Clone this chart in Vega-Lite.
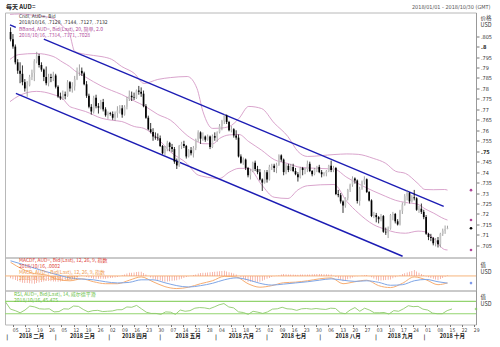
{
"$schema": "https://vega.github.io/schema/vega-lite/v6.json",
"padding": {"left": 2, "top": 2.5, "right": 0, "bottom": 0},
"background": "white",
"spacing": 0,
"bounds": "flush",
"config": {"view": {"stroke": "#b8b8b8", "strokeWidth": 1}, "font": "Liberation Sans Narrow, DejaVu Sans Condensed, Liberation Sans"},
"datasets": {
"one": [{}],
"cd": [
{"i":-1,"o":0.807,"h":0.8092,"l":0.8025,"c":0.8035,"d":-0.0012},
{"i":0,"o":0.8035,"h":0.806,"l":0.799,"c":0.8,"d":-0.0017},
{"i":1,"o":0.8,"h":0.801,"l":0.7915,"c":0.7925,"d":-0.0021},
{"i":2,"o":0.7925,"h":0.794,"l":0.787,"c":0.7885,"d":-0.0026},
{"i":3,"o":0.7885,"h":0.7925,"l":0.7825,"c":0.787,"d":-0.003},
{"i":4,"o":0.787,"h":0.791,"l":0.7815,"c":0.783,"d":-0.0035},
{"i":5,"o":0.783,"h":0.7845,"l":0.7785,"c":0.78,"d":-0.0036},
{"i":6,"o":0.78,"h":0.7835,"l":0.776,"c":0.7815,"d":-0.0037},
{"i":7,"o":0.7815,"h":0.7865,"l":0.781,"c":0.7855,"d":-0.0038},
{"i":8,"o":0.7855,"h":0.789,"l":0.784,"c":0.7875,"d":-0.0039},
{"i":9,"o":0.7875,"h":0.794,"l":0.7835,"c":0.793,"d":-0.004},
{"i":10,"o":0.793,"h":0.7975,"l":0.792,"c":0.7955,"d":-0.0037},
{"i":11,"o":0.7955,"h":0.7965,"l":0.79,"c":0.7912,"d":-0.0034},
{"i":12,"o":0.7912,"h":0.7925,"l":0.788,"c":0.789,"d":-0.0031},
{"i":13,"o":0.789,"h":0.7895,"l":0.7835,"c":0.7855,"d":-0.0028},
{"i":14,"o":0.7855,"h":0.7905,"l":0.7815,"c":0.7825,"d":-0.0025},
{"i":15,"o":0.7825,"h":0.787,"l":0.781,"c":0.7855,"d":-0.0026},
{"i":16,"o":0.7855,"h":0.787,"l":0.783,"c":0.785,"d":-0.0027},
{"i":17,"o":0.785,"h":0.788,"l":0.7835,"c":0.7862,"d":-0.0028},
{"i":18,"o":0.7862,"h":0.787,"l":0.78,"c":0.7808,"d":-0.0029},
{"i":19,"o":0.7808,"h":0.7815,"l":0.7755,"c":0.7762,"d":-0.003},
{"i":20,"o":0.7762,"h":0.778,"l":0.7745,"c":0.7752,"d":-0.0028},
{"i":21,"o":0.7752,"h":0.779,"l":0.7745,"c":0.7772,"d":-0.0026},
{"i":22,"o":0.7772,"h":0.7785,"l":0.7748,"c":0.7765,"d":-0.0024},
{"i":23,"o":0.7765,"h":0.784,"l":0.776,"c":0.783,"d":-0.0022},
{"i":24,"o":0.783,"h":0.7835,"l":0.7785,"c":0.78,"d":-0.002},
{"i":25,"o":0.78,"h":0.783,"l":0.778,"c":0.781,"d":-0.0016},
{"i":26,"o":0.781,"h":0.786,"l":0.779,"c":0.7845,"d":-0.0011},
{"i":27,"o":0.7845,"h":0.79,"l":0.784,"c":0.788,"d":-0.0007},
{"i":28,"o":0.788,"h":0.7915,"l":0.786,"c":0.7884,"d":-0.0002},
{"i":29,"o":0.7884,"h":0.79,"l":0.786,"c":0.7872,"d":0.0002},
{"i":30,"o":0.7872,"h":0.788,"l":0.7815,"c":0.782,"d":-0.0001},
{"i":31,"o":0.782,"h":0.7835,"l":0.7755,"c":0.7765,"d":-0.0005},
{"i":32,"o":0.7765,"h":0.7775,"l":0.7705,"c":0.7712,"d":-0.0008},
{"i":33,"o":0.7712,"h":0.7725,"l":0.7675,"c":0.769,"d":-0.0011},
{"i":34,"o":0.769,"h":0.7765,"l":0.768,"c":0.7755,"d":-0.0014},
{"i":35,"o":0.7755,"h":0.777,"l":0.7705,"c":0.7715,"d":-0.0014},
{"i":36,"o":0.7715,"h":0.773,"l":0.768,"c":0.7708,"d":-0.0014},
{"i":37,"o":0.7708,"h":0.7745,"l":0.77,"c":0.7735,"d":-0.0014},
{"i":38,"o":0.7735,"h":0.775,"l":0.769,"c":0.77,"d":-0.0014},
{"i":39,"o":0.77,"h":0.771,"l":0.7665,"c":0.7672,"d":-0.0014},
{"i":40,"o":0.7672,"h":0.769,"l":0.7655,"c":0.7682,"d":-0.0012},
{"i":41,"o":0.7682,"h":0.7688,"l":0.767,"c":0.7678,"d":-0.0011},
{"i":42,"o":0.7678,"h":0.769,"l":0.765,"c":0.766,"d":-0.0009},
{"i":43,"o":0.766,"h":0.769,"l":0.7645,"c":0.7682,"d":-0.0008},
{"i":44,"o":0.7682,"h":0.7715,"l":0.766,"c":0.7695,"d":-0.0006},
{"i":45,"o":0.7695,"h":0.772,"l":0.768,"c":0.7705,"d":-0.0002},
{"i":46,"o":0.7705,"h":0.772,"l":0.766,"c":0.7675,"d":0.0003},
{"i":47,"o":0.7675,"h":0.772,"l":0.767,"c":0.7712,"d":0.0007},
{"i":48,"o":0.7712,"h":0.776,"l":0.77,"c":0.775,"d":0.0012},
{"i":49,"o":0.775,"h":0.779,"l":0.774,"c":0.7765,"d":0.0016},
{"i":50,"o":0.7765,"h":0.7785,"l":0.774,"c":0.7758,"d":0.0017},
{"i":51,"o":0.7758,"h":0.778,"l":0.7745,"c":0.7755,"d":0.0018},
{"i":52,"o":0.7755,"h":0.7795,"l":0.775,"c":0.779,"d":0.002},
{"i":53,"o":0.779,"h":0.7812,"l":0.777,"c":0.7784,"d":0.0021},
{"i":54,"o":0.7784,"h":0.7805,"l":0.776,"c":0.7775,"d":0.0022},
{"i":55,"o":0.7775,"h":0.779,"l":0.771,"c":0.7715,"d":0.0015},
{"i":56,"o":0.7715,"h":0.7725,"l":0.7655,"c":0.766,"d":0.0007},
{"i":57,"o":0.766,"h":0.767,"l":0.76,"c":0.7605,"d":0},
{"i":58,"o":0.7605,"h":0.7635,"l":0.7585,"c":0.7592,"d":-0.0008},
{"i":59,"o":0.7592,"h":0.761,"l":0.755,"c":0.757,"d":-0.0015},
{"i":60,"o":0.757,"h":0.759,"l":0.7555,"c":0.7565,"d":-0.0018},
{"i":61,"o":0.7565,"h":0.7585,"l":0.755,"c":0.7562,"d":-0.0021},
{"i":62,"o":0.7562,"h":0.7575,"l":0.752,"c":0.7525,"d":-0.0024},
{"i":63,"o":0.7525,"h":0.753,"l":0.7485,"c":0.749,"d":-0.0027},
{"i":64,"o":0.749,"h":0.7525,"l":0.748,"c":0.751,"d":-0.003},
{"i":65,"o":0.751,"h":0.755,"l":0.75,"c":0.754,"d":-0.0028},
{"i":66,"o":0.754,"h":0.7545,"l":0.75,"c":0.752,"d":-0.0027},
{"i":67,"o":0.752,"h":0.7535,"l":0.7495,"c":0.751,"d":-0.0025},
{"i":68,"o":0.751,"h":0.752,"l":0.744,"c":0.745,"d":-0.0024},
{"i":69,"o":0.745,"h":0.7465,"l":0.7415,"c":0.7432,"d":-0.0022},
{"i":70,"o":0.7432,"h":0.753,"l":0.7425,"c":0.7525,"d":-0.0018},
{"i":71,"o":0.7525,"h":0.7545,"l":0.751,"c":0.7535,"d":-0.0014},
{"i":72,"o":0.7535,"h":0.755,"l":0.7515,"c":0.7525,"d":-0.001},
{"i":73,"o":0.7525,"h":0.753,"l":0.7465,"c":0.7475,"d":-0.0006},
{"i":74,"o":0.7475,"h":0.751,"l":0.747,"c":0.7505,"d":-0.0002},
{"i":75,"o":0.7505,"h":0.752,"l":0.748,"c":0.749,"d":0.0001},
{"i":76,"o":0.749,"h":0.7525,"l":0.747,"c":0.7515,"d":0.0005},
{"i":77,"o":0.7515,"h":0.756,"l":0.7505,"c":0.7555,"d":0.0008},
{"i":78,"o":0.7555,"h":0.76,"l":0.7545,"c":0.759,"d":0.0012},
{"i":79,"o":0.759,"h":0.7595,"l":0.7535,"c":0.756,"d":0.0015},
{"i":80,"o":0.756,"h":0.759,"l":0.755,"c":0.757,"d":0.0016},
{"i":81,"o":0.757,"h":0.7575,"l":0.7545,"c":0.7555,"d":0.0017},
{"i":82,"o":0.7555,"h":0.758,"l":0.755,"c":0.757,"d":0.0018},
{"i":83,"o":0.757,"h":0.7575,"l":0.751,"c":0.752,"d":0.0019},
{"i":84,"o":0.752,"h":0.758,"l":0.7515,"c":0.7572,"d":0.002},
{"i":85,"o":0.7572,"h":0.759,"l":0.755,"c":0.7565,"d":0.0021},
{"i":86,"o":0.7565,"h":0.7595,"l":0.7545,"c":0.759,"d":0.0023},
{"i":87,"o":0.759,"h":0.763,"l":0.7585,"c":0.762,"d":0.0024},
{"i":88,"o":0.762,"h":0.765,"l":0.76,"c":0.7645,"d":0.0026},
{"i":89,"o":0.7645,"h":0.7677,"l":0.763,"c":0.767,"d":0.0027},
{"i":90,"o":0.767,"h":0.7675,"l":0.763,"c":0.764,"d":0.0023},
{"i":91,"o":0.764,"h":0.7645,"l":0.7595,"c":0.76,"d":0.0019},
{"i":92,"o":0.76,"h":0.762,"l":0.759,"c":0.7605,"d":0.0016},
{"i":93,"o":0.7605,"h":0.761,"l":0.7565,"c":0.7575,"d":0.0012},
{"i":94,"o":0.7575,"h":0.76,"l":0.7555,"c":0.7565,"d":0.0008},
{"i":95,"o":0.7565,"h":0.758,"l":0.747,"c":0.7475,"d":0},
{"i":96,"o":0.7475,"h":0.7485,"l":0.744,"c":0.7445,"d":-0.0007},
{"i":97,"o":0.7445,"h":0.747,"l":0.7435,"c":0.746,"d":-0.0015},
{"i":98,"o":0.746,"h":0.7465,"l":0.741,"c":0.742,"d":-0.0022},
{"i":99,"o":0.742,"h":0.7425,"l":0.7375,"c":0.7385,"d":-0.003},
{"i":100,"o":0.7385,"h":0.7415,"l":0.7365,"c":0.7405,"d":-0.003},
{"i":101,"o":0.7405,"h":0.745,"l":0.74,"c":0.7445,"d":-0.003},
{"i":102,"o":0.7445,"h":0.7455,"l":0.7405,"c":0.7415,"d":-0.003},
{"i":103,"o":0.7415,"h":0.743,"l":0.739,"c":0.74,"d":-0.003},
{"i":104,"o":0.74,"h":0.7415,"l":0.736,"c":0.7365,"d":-0.003},
{"i":105,"o":0.7365,"h":0.737,"l":0.731,"c":0.735,"d":-0.0025},
{"i":106,"o":0.735,"h":0.741,"l":0.7345,"c":0.74,"d":-0.002},
{"i":107,"o":0.74,"h":0.741,"l":0.735,"c":0.7365,"d":-0.0015},
{"i":108,"o":0.7365,"h":0.7435,"l":0.736,"c":0.7425,"d":-0.001},
{"i":109,"o":0.7425,"h":0.744,"l":0.741,"c":0.743,"d":-0.0005},
{"i":110,"o":0.743,"h":0.744,"l":0.74,"c":0.742,"d":-0.0002},
{"i":111,"o":0.742,"h":0.7445,"l":0.7395,"c":0.7435,"d":0.0001},
{"i":112,"o":0.7435,"h":0.7485,"l":0.743,"c":0.748,"d":0.0004},
{"i":113,"o":0.748,"h":0.7485,"l":0.745,"c":0.746,"d":0.0007},
{"i":114,"o":0.746,"h":0.7465,"l":0.7385,"c":0.74,"d":0.001},
{"i":115,"o":0.74,"h":0.744,"l":0.739,"c":0.743,"d":0.0009},
{"i":116,"o":0.743,"h":0.744,"l":0.74,"c":0.741,"d":0.0008},
{"i":117,"o":0.741,"h":0.744,"l":0.7405,"c":0.7425,"d":0.0008},
{"i":118,"o":0.7425,"h":0.744,"l":0.74,"c":0.7405,"d":0.0007},
{"i":119,"o":0.7405,"h":0.742,"l":0.7385,"c":0.739,"d":0.0006},
{"i":120,"o":0.739,"h":0.74,"l":0.7355,"c":0.7375,"d":0.0006},
{"i":121,"o":0.7375,"h":0.7425,"l":0.737,"c":0.742,"d":0.0007},
{"i":122,"o":0.742,"h":0.7425,"l":0.7385,"c":0.741,"d":0.0007},
{"i":123,"o":0.741,"h":0.742,"l":0.739,"c":0.7415,"d":0.0008},
{"i":124,"o":0.7415,"h":0.7455,"l":0.74,"c":0.744,"d":0.0008},
{"i":125,"o":0.744,"h":0.745,"l":0.74,"c":0.7405,"d":0.0008},
{"i":126,"o":0.7405,"h":0.741,"l":0.738,"c":0.739,"d":0.0009},
{"i":127,"o":0.739,"h":0.742,"l":0.7385,"c":0.7415,"d":0.0009},
{"i":128,"o":0.7415,"h":0.743,"l":0.74,"c":0.7425,"d":0.001},
{"i":129,"o":0.7425,"h":0.7435,"l":0.7395,"c":0.74,"d":0.001},
{"i":130,"o":0.74,"h":0.741,"l":0.7375,"c":0.739,"d":0.001},
{"i":131,"o":0.739,"h":0.74,"l":0.738,"c":0.7395,"d":0.0009},
{"i":132,"o":0.7395,"h":0.741,"l":0.738,"c":0.7405,"d":0.0009},
{"i":133,"o":0.7405,"h":0.7435,"l":0.74,"c":0.743,"d":0.0008},
{"i":134,"o":0.743,"h":0.7455,"l":0.74,"c":0.741,"d":0.0008},
{"i":135,"o":0.741,"h":0.743,"l":0.74,"c":0.742,"d":0.0001},
{"i":136,"o":0.742,"h":0.7425,"l":0.729,"c":0.7295,"d":-0.0006},
{"i":137,"o":0.7295,"h":0.7315,"l":0.728,"c":0.729,"d":-0.0013},
{"i":138,"o":0.729,"h":0.73,"l":0.725,"c":0.726,"d":-0.002},
{"i":139,"o":0.726,"h":0.7265,"l":0.7205,"c":0.724,"d":-0.0027},
{"i":140,"o":0.724,"h":0.728,"l":0.723,"c":0.7275,"d":-0.0022},
{"i":141,"o":0.7275,"h":0.732,"l":0.7265,"c":0.7315,"d":-0.0017},
{"i":142,"o":0.7315,"h":0.7345,"l":0.7305,"c":0.734,"d":-0.0013},
{"i":143,"o":0.734,"h":0.738,"l":0.733,"c":0.737,"d":-0.0008},
{"i":144,"o":0.737,"h":0.7375,"l":0.7345,"c":0.736,"d":-0.0003},
{"i":145,"o":0.736,"h":0.7365,"l":0.725,"c":0.7262,"d":-0.0001},
{"i":146,"o":0.7262,"h":0.733,"l":0.724,"c":0.732,"d":0},
{"i":147,"o":0.732,"h":0.736,"l":0.7315,"c":0.7355,"d":0.0002},
{"i":148,"o":0.7355,"h":0.738,"l":0.734,"c":0.7366,"d":0.0003},
{"i":149,"o":0.7366,"h":0.737,"l":0.73,"c":0.7305,"d":0.0005},
{"i":150,"o":0.7305,"h":0.731,"l":0.726,"c":0.7265,"d":-0.0001},
{"i":151,"o":0.7265,"h":0.727,"l":0.7185,"c":0.719,"d":-0.0007},
{"i":152,"o":0.719,"h":0.721,"l":0.718,"c":0.7195,"d":-0.0013},
{"i":153,"o":0.7195,"h":0.7205,"l":0.716,"c":0.7185,"d":-0.0019},
{"i":154,"o":0.7185,"h":0.719,"l":0.7155,"c":0.7175,"d":-0.0025},
{"i":155,"o":0.7175,"h":0.72,"l":0.7165,"c":0.719,"d":-0.0024},
{"i":156,"o":0.719,"h":0.7195,"l":0.711,"c":0.7115,"d":-0.0022},
{"i":157,"o":0.7115,"h":0.7135,"l":0.71,"c":0.7112,"d":-0.0021},
{"i":158,"o":0.7112,"h":0.714,"l":0.7085,"c":0.713,"d":-0.0019},
{"i":159,"o":0.713,"h":0.72,"l":0.7125,"c":0.7195,"d":-0.0018},
{"i":160,"o":0.7195,"h":0.721,"l":0.717,"c":0.72,"d":-0.0012},
{"i":161,"o":0.72,"h":0.7205,"l":0.7155,"c":0.7165,"d":-0.0007},
{"i":162,"o":0.7165,"h":0.7175,"l":0.7145,"c":0.715,"d":-0.0001},
{"i":163,"o":0.715,"h":0.722,"l":0.7145,"c":0.7215,"d":0.0004},
{"i":164,"o":0.7215,"h":0.7255,"l":0.72,"c":0.7245,"d":0.001},
{"i":165,"o":0.7245,"h":0.7295,"l":0.724,"c":0.7285,"d":0.0014},
{"i":166,"o":0.7285,"h":0.7315,"l":0.7265,"c":0.73,"d":0.0018},
{"i":167,"o":0.73,"h":0.7305,"l":0.725,"c":0.726,"d":0.0022},
{"i":168,"o":0.726,"h":0.729,"l":0.7255,"c":0.728,"d":0.0026},
{"i":169,"o":0.728,"h":0.7315,"l":0.7265,"c":0.7275,"d":0.003},
{"i":170,"o":0.7275,"h":0.728,"l":0.7215,"c":0.722,"d":0.0023},
{"i":171,"o":0.722,"h":0.724,"l":0.7205,"c":0.7225,"d":0.0017},
{"i":172,"o":0.7225,"h":0.725,"l":0.72,"c":0.721,"d":0.001},
{"i":173,"o":0.721,"h":0.722,"l":0.7175,"c":0.7185,"d":0.0004},
{"i":174,"o":0.7185,"h":0.7195,"l":0.71,"c":0.7105,"d":-0.0003},
{"i":175,"o":0.7105,"h":0.711,"l":0.7075,"c":0.709,"d":-0.0007},
{"i":176,"o":0.709,"h":0.7105,"l":0.707,"c":0.7085,"d":-0.0011},
{"i":177,"o":0.7085,"h":0.709,"l":0.705,"c":0.706,"d":-0.0014},
{"i":178,"o":0.706,"h":0.7085,"l":0.7045,"c":0.7075,"d":-0.0018},
{"i":179,"o":0.7075,"h":0.709,"l":0.704,"c":0.7055,"d":-0.0022},
{"i":180,"o":0.7055,"h":0.711,"l":0.704,"c":0.7105,"d":-0.0016},
{"i":181,"o":0.7105,"h":0.713,"l":0.7095,"c":0.712,"d":-0.001},
{"i":182,"o":0.712,"h":0.7145,"l":0.7105,"c":0.7128,"d":-0.0004},
{"i":183,"o":0.7128,"h":0.7144,"l":0.7127,"c":0.7132,"d":0.0002}
],
"bb": [
{"i":-1.24,"u":0.8154,"m":0.7939,"lo":0.7737},
{"i":2.5,"u":0.8156,"m":0.7962,"lo":0.7765},
{"i":9.9,"u":0.8148,"m":0.7967,"lo":0.7786},
{"i":16.9,"u":0.8135,"m":0.7953,"lo":0.7771},
{"i":21,"u":0.8096,"m":0.7925,"lo":0.775},
{"i":23.9,"u":0.8058,"m":0.7905,"lo":0.7714},
{"i":26,"u":0.7977,"m":0.7885,"lo":0.7705},
{"i":30.5,"u":0.7963,"m":0.7855,"lo":0.769},
{"i":37.5,"u":0.7952,"m":0.781,"lo":0.7657},
{"i":41.6,"u":0.7939,"m":0.779,"lo":0.7648},
{"i":45.8,"u":0.7905,"m":0.7771,"lo":0.7642},
{"i":51.1,"u":0.7872,"m":0.774,"lo":0.7618},
{"i":55.2,"u":0.7824,"m":0.7718,"lo":0.7609},
{"i":61,"u":0.7843,"m":0.7676,"lo":0.7560},
{"i":66.4,"u":0.7852,"m":0.7648,"lo":0.7496},
{"i":73.4,"u":0.7857,"m":0.7575,"lo":0.7440},
{"i":77.5,"u":0.78,"m":0.7546,"lo":0.7389},
{"i":80,"u":0.769,"m":0.7536,"lo":0.738},
{"i":84.1,"u":0.7609,"m":0.7535,"lo":0.7372},
{"i":87,"u":0.761,"m":0.7561,"lo":0.737},
{"i":91.1,"u":0.7618,"m":0.7578,"lo":0.74},
{"i":95.2,"u":0.7657,"m":0.758,"lo":0.7418},
{"i":99.3,"u":0.7714,"m":0.7546,"lo":0.7418},
{"i":104.7,"u":0.7704,"m":0.7505,"lo":0.734},
{"i":110,"u":0.7635,"m":0.746,"lo":0.728},
{"i":115.8,"u":0.757,"m":0.7441,"lo":0.7274},
{"i":120,"u":0.7499,"m":0.7425,"lo":0.7315},
{"i":124,"u":0.7475,"m":0.742,"lo":0.7335},
{"i":135.2,"u":0.7484,"m":0.7415,"lo":0.7341},
{"i":140.6,"u":0.7487,"m":0.7375,"lo":0.726},
{"i":145.4,"u":0.7485,"m":0.7345,"lo":0.7205},
{"i":151.7,"u":0.7466,"m":0.731,"lo":0.715},
{"i":157,"u":0.7442,"m":0.7284,"lo":0.7126},
{"i":161.2,"u":0.7404,"m":0.7265,"lo":0.7112},
{"i":165.3,"u":0.7394,"m":0.7255,"lo":0.7108},
{"i":170.6,"u":0.7345,"m":0.7246,"lo":0.7118},
{"i":173.5,"u":0.7317,"m":0.7225,"lo":0.7115},
{"i":177,"u":0.7316,"m":0.7205,"lo":0.7085},
{"i":181.8,"u":0.7317,"m":0.7176,"lo":0.703},
{"i":183,"u":0.7314,"m":0.7171,"lo":0.7028}
],
"chan": [
{"ln":"up1","i":-1.24,"v":0.8104},
{"ln":"up1","i":1.2,"v":0.8092},
{"ln":"up2","i":13,"v":0.8036},
{"ln":"up2","i":181.4,"v":0.7236},
{"ln":"low","i":1.24,"v":0.7776},
{"ln":"low","i":164.1,"v":0.6998}
],
"macd": [
{"i":-1,"m":0.007,"s":0.0078},{"i":4,"m":0.0035,"s":0.006},{"i":9,"m":0.0012,"s":0.004},{"i":14,"m":0.0005,"s":0.0022},
{"i":19,"m":-0.0018,"s":0.0005},{"i":24,"m":-0.0025,"s":-0.001},{"i":29,"m":-0.0015,"s":-0.0016},{"i":34,"m":-0.003,"s":-0.002},
{"i":39,"m":-0.004,"s":-0.003},{"i":44,"m":-0.004,"s":-0.0036},{"i":49,"m":-0.0022,"s":-0.0033},{"i":54,"m":-0.0005,"s":-0.002},
{"i":59,"m":-0.003,"s":-0.002},{"i":64,"m":-0.0055,"s":-0.0035},{"i":69,"m":-0.0065,"s":-0.005},{"i":74,"m":-0.0058,"s":-0.0057},
{"i":79,"m":-0.004,"s":-0.005},{"i":84,"m":-0.0025,"s":-0.0038},{"i":89,"m":-0.0002,"s":-0.002},{"i":94,"m":-0.0005,"s":-0.001},
{"i":99,"m":-0.004,"s":-0.002},{"i":104,"m":-0.0058,"s":-0.0038},{"i":109,"m":-0.005,"s":-0.0047},{"i":114,"m":-0.0035,"s":-0.0042},
{"i":119,"m":-0.0032,"s":-0.0036},{"i":124,"m":-0.0025,"s":-0.003},{"i":129,"m":-0.0015,"s":-0.0022},{"i":134,"m":-0.001,"s":-0.0015},
{"i":139,"m":-0.004,"s":-0.0022},{"i":144,"m":-0.003,"s":-0.0028},{"i":149,"m":-0.0022,"s":-0.0025},{"i":154,"m":-0.005,"s":-0.0033},
{"i":159,"m":-0.006,"s":-0.0048},{"i":164,"m":-0.0038,"s":-0.0045},{"i":169,"m":-0.0005,"s":-0.0025},{"i":174,"m":-0.002,"s":-0.0018},
{"i":179,"m":-0.0045,"s":-0.003},{"i":183,"m":-0.0036,"s":-0.0037}
],
"rsi": [
{"i":-1,"r":68},{"i":1,"r":45},{"i":3,"r":40},{"i":5,"r":33},{"i":7,"r":42},{"i":9,"r":55},{"i":11,"r":52},{"i":13,"r":46},{"i":15,"r":45},{"i":17,"r":46},{"i":19,"r":36},{"i":21,"r":37},{"i":23,"r":46},{"i":25,"r":45},{"i":27,"r":55},{"i":29,"r":54},{"i":31,"r":44},{"i":33,"r":36},{"i":35,"r":40},{"i":37,"r":41},{"i":39,"r":37},{"i":41,"r":38},{"i":43,"r":39},{"i":45,"r":43},{"i":47,"r":43},{"i":49,"r":52},{"i":51,"r":51},{"i":53,"r":57},{"i":55,"r":46},{"i":57,"r":35},{"i":59,"r":31},{"i":61,"r":31},{"i":63,"r":28},{"i":65,"r":36},{"i":67,"r":35},{"i":69,"r":28},{"i":71,"r":42},{"i":73,"r":38},{"i":75,"r":40},{"i":77,"r":48},{"i":79,"r":50},{"i":81,"r":49},{"i":83,"r":46},{"i":85,"r":52},{"i":87,"r":59},{"i":89,"r":63},{"i":91,"r":52},{"i":93,"r":49},{"i":95,"r":36},{"i":97,"r":34},{"i":99,"r":28},{"i":101,"r":38},{"i":103,"r":35},{"i":105,"r":31},{"i":107,"r":36},{"i":109,"r":45},{"i":111,"r":46},{"i":113,"r":51},{"i":115,"r":46},{"i":117,"r":45},{"i":119,"r":41},{"i":121,"r":46},{"i":123,"r":47},{"i":125,"r":45},{"i":127,"r":47},{"i":129,"r":45},{"i":131,"r":44},{"i":133,"r":48},{"i":135,"r":47},{"i":137,"r":33},{"i":139,"r":30},{"i":141,"r":42},{"i":143,"r":50},{"i":145,"r":38},{"i":147,"r":48},{"i":149,"r":42},{"i":151,"r":33},{"i":153,"r":33},{"i":155,"r":34},{"i":157,"r":29},{"i":159,"r":40},{"i":161,"r":38},{"i":163,"r":46},{"i":165,"r":56},{"i":167,"r":53},{"i":169,"r":54},{"i":171,"r":45},{"i":173,"r":42},{"i":175,"r":32},{"i":177,"r":30},{"i":179,"r":30},{"i":181,"r":40},{"i":183,"r":45.5}
],
"nowMain": [{"k":"u","v":0.7314},{"k":"m","v":0.7171},{"k":"lo","v":0.7028},{"k":"c","v":0.7132}],
"levels": [{"lv":30},{"lv":70}]
},
"vconcat": [
{
"width": 471, "height": 245,
"resolve": {"axis": {"y": "independent"}},
"layer": [
{"data": {"name": "bb"}, "transform": [{"fold": ["u","m","lo"], "as": ["k","v"]}],
 "mark": {"type": "line", "interpolate": "monotone", "color": "#d59ac6", "strokeWidth": 0.9},
 "encoding": {"x": {"field": "i", "type": "quantitative", "scale": {"domain": [-1.24, 192.9], "nice": false, "zero": false}, "axis": null},
  "y": {"field": "v", "type": "quantitative", "scale": {"domain": [0.6992, 0.8163], "nice": false, "zero": false},
   "axis": {"orient": "right", "values": [0.705,0.71,0.715,0.72,0.725,0.73,0.735,0.74,0.745,0.75,0.755,0.76,0.765,0.77,0.775,0.78,0.785,0.79,0.795,0.8,0.805],
    "labelExpr": "replace(format(datum.value, '.3~f'), '0.', '.')", "labelFontSize": 5.5, "labelColor": "#333",
    "labelFontWeight": {"condition": {"test": "abs(datum.value - 0.8) < 0.0001 || abs(datum.value - 0.75) < 0.0001", "value": "bold"}, "value": "normal"},
    "tickSize": 3, "tickColor": "#777", "domainColor": "#999", "labelPadding": 1.5, "grid": false, "labelOverlap": false, "labelBound": false,
    "title": ["价格", "USD"], "titleAngle": 0, "titleAlign": "left", "titleBaseline": "top", "titleX": 4, "titleY": 3,
    "titleFontSize": 5.5, "titleFontWeight": "normal", "titleColor": "#333", "titleLineHeight": 7, "titleFont": "Noto Sans CJK SC"}},
  "detail": {"field": "k"}}},
{"data": {"name": "chan"},
 "mark": {"type": "line", "color": "#1c1cb4", "strokeWidth": 1.4},
 "encoding": {"x": {"field": "i", "type": "quantitative", "axis": null}, "y": {"field": "v", "type": "quantitative", "axis": null}, "detail": {"field": "ln"}}},
{"data": {"name": "cd"},
 "mark": {"type": "rule", "strokeWidth": 0.8},
 "encoding": {"x": {"field": "i", "type": "quantitative", "axis": null}, "y": {"field": "l", "type": "quantitative", "axis": null}, "y2": {"field": "h"},
  "color": {"condition": {"test": "datum.c >= datum.o", "value": "#8c8c8c"}, "value": "#000000"}}},
{"data": {"name": "cd"},
 "mark": {"type": "bar", "size": 1.7},
 "encoding": {"x": {"field": "i", "type": "quantitative", "axis": null}, "y": {"field": "o", "type": "quantitative", "axis": null}, "y2": {"field": "c"},
  "color": {"condition": {"test": "datum.c >= datum.o", "value": "#c4c4c4"}, "value": "#000000"}}},
{"data": {"name": "nowMain"},
 "mark": {"type": "point", "filled": true, "size": 7, "opacity": 1},
 "encoding": {"x": {"datum": 192.9, "type": "quantitative", "axis": null}, "y": {"field": "v", "type": "quantitative", "axis": null},
  "color": {"field": "k", "type": "nominal", "scale": {"domain": ["u","m","lo","c"], "range": ["#b04a9a","#b04a9a","#b04a9a","#000000"]}, "legend": null}}},
{"data": {"name": "one"},
 "mark": {"type": "text", "align": "left", "baseline": "top", "fontSize": 5, "lineHeight": 6.3, "color": "#333"},
 "encoding": {"x": {"datum": 2.5, "type": "quantitative", "axis": null}, "y": {"datum": 0.8156, "type": "quantitative", "axis": null},
  "text": {"value": ["Cndl, AUD=, Bid", "2018/10/16, .7128, .7144, .7127, .7132"]}}},
{"data": {"name": "one"},
 "mark": {"type": "text", "align": "left", "baseline": "top", "fontSize": 5, "lineHeight": 6.3, "color": "#b04a9a", "font": "Liberation Sans Narrow, Noto Sans CJK SC"},
 "encoding": {"x": {"datum": 2.5, "type": "quantitative", "axis": null}, "y": {"datum": 0.8096, "type": "quantitative", "axis": null},
  "text": {"value": ["BBand, AUD=, Bid(Last), 20, 简单, 2.0", "2018/10/16, .7314, .7171, .7028"]}}},
{"data": {"name": "one"},
 "mark": {"type": "text", "align": "left", "baseline": "middle", "fontSize": 6, "fontWeight": "bold", "dx": -4, "color": "#222", "font": "Noto Sans CJK SC"},
 "encoding": {"x": {"datum": -1.24, "type": "quantitative", "axis": null}, "y": {"datum": 0.81893, "type": "quantitative", "axis": null}, "text": {"value": "每天 AUD="}}},
{"data": {"name": "one"},
 "mark": {"type": "text", "align": "right", "baseline": "middle", "fontSize": 5.5, "color": "#555"},
 "encoding": {"x": {"datum": 201.1, "type": "quantitative", "axis": null}, "y": {"datum": 0.81893, "type": "quantitative", "axis": null}, "text": {"value": "2018/01/01 - 2018/10/30 (GMT)"}}}
]
},
{
"width": 471, "height": 33,
"resolve": {"axis": {"y": "independent"}},
"layer": [
{"data": {"name": "one"},
 "mark": {"type": "rule", "color": "#f6b57c", "strokeWidth": 1},
 "encoding": {"y": {"datum": 0, "type": "quantitative", "scale": {"domain": [-0.0075, 0.0095], "nice": false, "zero": false},
  "axis": {"orient": "right", "values": [], "labels": false, "ticks": false, "domainColor": "#999", "grid": false, "title": ["值", "USD"], "titleAngle": 0, "titleAlign": "left", "titleBaseline": "top",
   "titleX": 4, "titleY": 5, "titleFontSize": 5.5, "titleFontWeight": "normal", "titleColor": "#333", "titleLineHeight": 7, "titleFont": "Noto Sans CJK SC"}}}},
{"data": {"name": "cd"},
 "mark": {"type": "bar", "size": 0.6, "color": "#f08a7a"},
 "encoding": {"x": {"field": "i", "type": "quantitative", "scale": {"domain": [-1.24, 192.9], "nice": false, "zero": false}, "axis": null},
  "y": {"field": "d", "type": "quantitative", "axis": null}, "y2": {"datum": 0}}},
{"data": {"name": "macd"},
 "mark": {"type": "line", "interpolate": "monotone", "color": "#f7ad72", "strokeWidth": 1},
 "encoding": {"x": {"field": "i", "type": "quantitative", "axis": null}, "y": {"field": "m", "type": "quantitative", "axis": null}}},
{"data": {"name": "macd"},
 "mark": {"type": "line", "interpolate": "monotone", "color": "#7fa6e6", "strokeWidth": 1},
 "encoding": {"x": {"field": "i", "type": "quantitative", "axis": null}, "y": {"field": "s", "type": "quantitative", "axis": null}}},
{"data": {"name": "one"},
 "mark": {"type": "point", "filled": true, "size": 7, "color": "#4a6fe0"},
 "encoding": {"x": {"datum": 192.9, "type": "quantitative", "axis": null}, "y": {"datum": -0.0037, "type": "quantitative", "axis": null}}},
{"data": {"name": "one"},
 "mark": {"type": "text", "align": "left", "baseline": "top", "fontSize": 5, "lineHeight": 6.3, "color": "#e0453a", "font": "Liberation Sans Narrow, Noto Sans CJK SC"},
 "encoding": {"x": {"datum": 2.5, "type": "quantitative", "axis": null}, "y": {"datum": 0.00948, "type": "quantitative", "axis": null},
  "text": {"value": ["MACDF, AUD=, Bid(Last), 12, 26, 9, 指数", "2018/10/16, .0002"]}}},
{"data": {"name": "one"},
 "mark": {"type": "text", "align": "left", "baseline": "top", "fontSize": 5, "lineHeight": 6.3, "color": "#ee9a50", "font": "Liberation Sans Narrow, Noto Sans CJK SC"},
 "encoding": {"x": {"datum": 2.5, "type": "quantitative", "axis": null}, "y": {"datum": 0.00299, "type": "quantitative", "axis": null},
  "text": {"value": ["MACD, AUD=, Bid(Last), 12, 26, 9, 指数", "2018/10/16, -.0036, -.0037"]}}}
]
},
{
"width": 471, "height": 34,
"resolve": {"axis": {"x": "independent", "y": "independent"}},
"layer": [
{"data": {"name": "levels"},
 "mark": {"type": "rule", "color": "#93d46f", "strokeWidth": 1.2},
 "encoding": {"y": {"field": "lv", "type": "quantitative", "scale": {"domain": [-5, 105.5], "nice": false, "zero": false},
  "axis": {"orient": "right", "values": [], "labels": false, "ticks": false, "domainColor": "#999", "grid": false, "title": ["值", "USD"], "titleAngle": 0, "titleAlign": "left", "titleBaseline": "top",
   "titleX": 4, "titleY": 4, "titleFontSize": 5.5, "titleFontWeight": "normal", "titleColor": "#333", "titleLineHeight": 7, "titleFont": "Noto Sans CJK SC"}}}},
{"data": {"name": "rsi"},
 "mark": {"type": "line", "color": "#8fcb6c", "strokeWidth": 0.9},
 "encoding": {"x": {"field": "i", "type": "quantitative", "scale": {"domain": [-1.24, 192.9], "nice": false, "zero": false},
   "axis": {"orient": "bottom", "values": [2,7,12,17,22,27,32,37,42,47,52,57,62,67,72,77,82,87,92,97,102,107,112,117,122,127,132,137,142,147,152,157,162,167,172,177,182,187,192],
    "labelExpr": "['05','12','19','26','05','12','19','26','02','09','16','23','30','07','14','21','28','04','11','18','25','02','09','16','23','30','06','13','20','27','03','10','17','24','01','08','15','22','29'][round((datum.value-2)/5)]",
    "labelAlign": "left", "labelOffset": -0.5, "labelFontSize": 5, "labelColor": "#444", "labelPadding": 1, "tickSize": 2, "tickColor": "#777",
    "domain": false, "grid": false, "labelFlush": false, "labelOverlap": false, "labelBound": false, "title": null}},
  "y": {"field": "r", "type": "quantitative", "axis": null}}},
{"data": {"name": "rsi"},
 "mark": {"type": "point", "opacity": 0},
 "encoding": {"x": {"field": "i", "type": "quantitative",
   "axis": {"orient": "bottom", "values": [9.5,30.5,52,74,96,117.5,140,161.5,183],
    "labelExpr": "['2018 二月','2018 三月','2018 四月','2018 五月','2018 六月','2018 七月','2018 八月','2018 九月','2018 十月'][indexof([9.5,30.5,52,74,96,117.5,140,161.5,183], datum.value)]",
    "labelFont": "Noto Sans CJK SC", "labelFontSize": 5.5, "labelFontWeight": "bold", "labelColor": "#222", "labelPadding": 9, "ticks": false,
    "domain": false, "grid": false, "labelFlush": false, "labelOverlap": false, "labelBound": false, "title": null}},
  "y": {"field": "r", "type": "quantitative", "axis": null}}},
{"data": {"name": "rsi"},
 "mark": {"type": "point", "opacity": 0},
 "encoding": {"x": {"field": "i", "type": "quantitative",
   "axis": {"orient": "bottom", "values": [-0.5,19.5,41.5,62.5,85.5,106.5,128.5,151.5,171.5],
    "labelExpr": "'|'", "labelFontSize": 6, "labelFontWeight": "bold", "labelColor": "#333", "labelPadding": 9, "ticks": false,
    "domain": false, "grid": false, "labelFlush": false, "labelOverlap": false, "labelBound": false, "title": null}},
  "y": {"field": "r", "type": "quantitative", "axis": null}}},
{"data": {"name": "one"},
 "mark": {"type": "point", "filled": true, "size": 7, "color": "#7cc85a"},
 "encoding": {"x": {"datum": 192.9, "type": "quantitative", "axis": null}, "y": {"datum": 45.5, "type": "quantitative", "axis": null}}},
{"data": {"name": "one"},
 "mark": {"type": "text", "align": "left", "baseline": "top", "fontSize": 5, "lineHeight": 6.3, "color": "#6cbf48", "font": "Liberation Sans Narrow, Noto Sans CJK SC"},
 "encoding": {"x": {"datum": 2.5, "type": "quantitative", "axis": null}, "y": {"datum": 102, "type": "quantitative", "axis": null},
  "text": {"value": ["RSI, AUD=, Bid(Last), 14, 威尔德平滑", "2018/10/16, 45.475"]}}}
]
}
]
}
